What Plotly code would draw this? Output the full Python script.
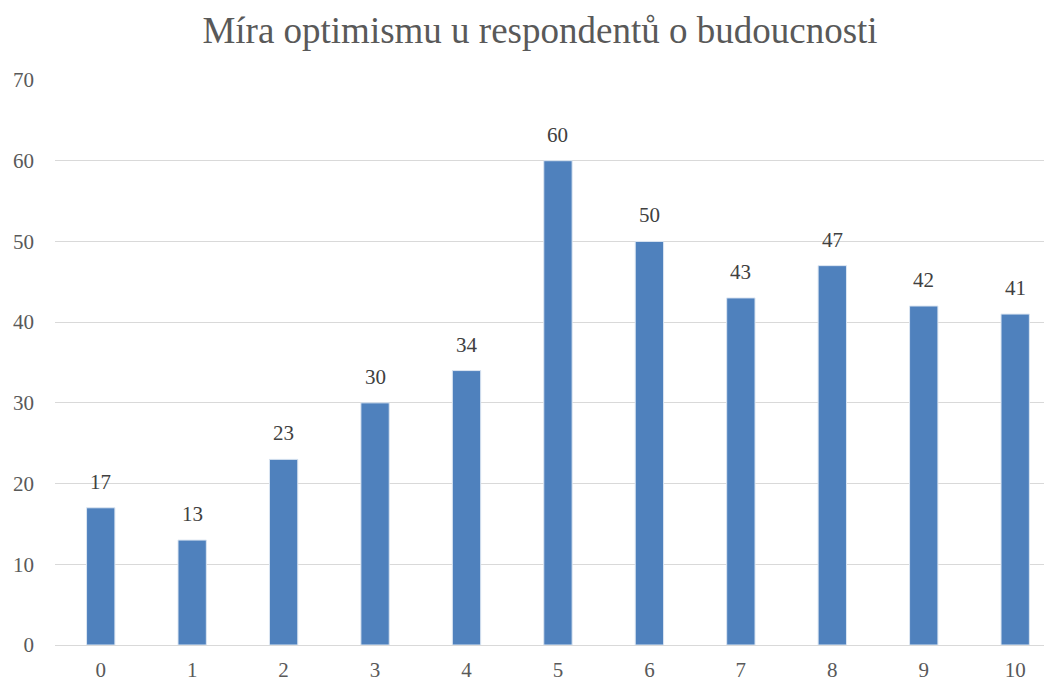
import plotly.graph_objects as go

categories = ["0", "1", "2", "3", "4", "5", "6", "7", "8", "9", "10"]
values = [17, 13, 23, 30, 34, 60, 50, 43, 47, 42, 41]
y_ticks = [0, 10, 20, 30, 40, 50, 60, 70]
title = "Míra optimismu u respondentů o budoucnosti"

font = "Liberation Serif"

xs = list(range(len(categories)))
fig = go.Figure(go.Bar(
    x=xs,
    y=values,
    marker=dict(color="#4F81BD", line=dict(color="#DCE6F2", width=1)),
    width=0.31,
))

for x, v in zip(xs, values):
    fig.add_annotation(x=x, y=v, text=str(v), showarrow=False, yanchor="bottom",
                       yshift=12, font=dict(family=font, size=21, color="#404040"))

fig.update_layout(
    width=1052, height=681,
    margin=dict(l=47, r=0, t=72, b=44),
    paper_bgcolor="white", plot_bgcolor="white",
    title=dict(text=title, x=532 / 1052, xanchor="center", xref="container", y=1 - 22 / 681, yanchor="middle",
               font=dict(family=font, size=37, color="#595959")),
    showlegend=False,
    font=dict(family=font),
)
fig.update_xaxes(
    tickmode="array", tickvals=xs, ticktext=categories,
    range=[-0.5, 10.49], showgrid=False, zeroline=False, showline=False,
    tickfont=dict(family=font, size=21, color="#595959"), ticks="", ticklabelstandoff=10,
)
fig.update_yaxes(
    range=[0, 70], tickvals=y_ticks, showgrid=True, gridcolor="#D9D9D9", gridwidth=1.3,
    zeroline=True, zerolinecolor="#D9D9D9", zerolinewidth=1.3, showline=False,
    tickfont=dict(family=font, size=21, color="#595959"), ticks="", ticklabelstandoff=20,
)

fig.write_html("out.html")
